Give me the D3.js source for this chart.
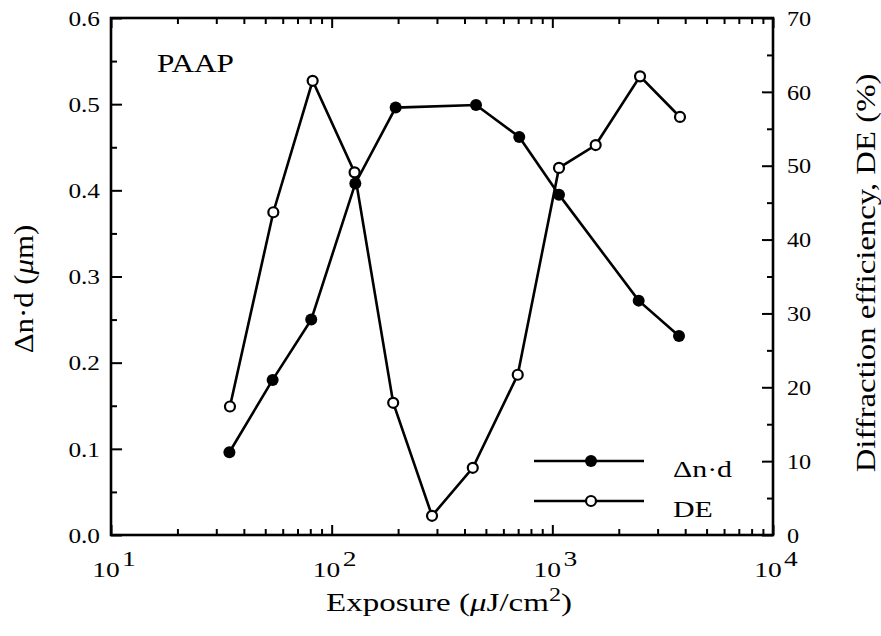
<!DOCTYPE html>
<html>
<head>
<meta charset="utf-8">
<script src="https://cdn.jsdelivr.net/npm/d3@7"></script>
<style>
  html, body { margin: 0; padding: 0; background: #fff; }
  svg { display: block; }
  text { font-family: "Liberation Serif", "Times New Roman", serif; fill: #000; }
</style>
</head>
<body>
<svg id="chart" width="881" height="636"></svg>
<script>
// Δn·d series (filled circles)
const exposureND = [34.4, 54.0, 80.8, 128, 195, 451, 708, 1072, 2462, 3750];
const deltaND = [0.096, 0.180, 0.250, 0.408, 0.496, 0.499, 0.462, 0.395, 0.272, 0.231];

// Diffraction efficiency series (open circles)
const exposureDE = [34.6, 54.4, 82.0, 127, 190, 285, 436, 697, 1072, 1572, 2497, 3789];
const efficiencyDE = [17.4, 43.7, 61.5, 49.1, 17.9, 2.6, 9.1, 21.7, 49.7, 52.8, 62.1, 56.6];

// Axis ticks
const decadeTicks = [10, 100, 1000, 10000];
const decadeExponents = ["1", "2", "3", "4"];
const leftTicks = [0.0, 0.1, 0.2, 0.3, 0.4, 0.5, 0.6];
const rightTicks = [0, 10, 20, 30, 40, 50, 60, 70];

// Legend entries
const legendLabels = ["\u0394n\u00B7d", "DE"];

const svg = d3.select("#chart");
const plotL = 111, plotR = 773, plotT = 18, plotB = 535;

const x = d3.scaleLog().domain([10, 10000]).range([plotL, plotR]);
const yL = d3.scaleLinear().domain([0, 0.6]).range([plotB, plotT]);
const yR = d3.scaleLinear().domain([0, 70]).range([plotB, plotT]);

// minor log ticks 2..9 in each decade
const minorX = [];
decadeTicks.slice(0, 3).forEach(d => { for (let k = 2; k <= 9; k++) minorX.push(d * k); });
const minorL = d3.range(0.05, 0.6, 0.1);
const minorR = d3.range(5, 70, 10);

function styleAxis(g) {
  g.select(".domain").remove();
  g.selectAll("line").attr("stroke", "#000").attr("stroke-width", 2);
  g.selectAll("text").remove();
}

// bottom & top axes (ticks point inward)
svg.append("g").attr("transform", `translate(0,${plotB})`)
  .call(d3.axisBottom(x).tickValues(decadeTicks).tickSize(-10)).call(styleAxis);
svg.append("g").attr("transform", `translate(0,${plotB})`)
  .call(d3.axisBottom(x).tickValues(minorX).tickSize(-6)).call(styleAxis);
svg.append("g").attr("transform", `translate(0,${plotT})`)
  .call(d3.axisTop(x).tickValues(decadeTicks).tickSize(-10)).call(styleAxis);
svg.append("g").attr("transform", `translate(0,${plotT})`)
  .call(d3.axisTop(x).tickValues(minorX).tickSize(-6)).call(styleAxis);

// left & right axes
svg.append("g").attr("transform", `translate(${plotL},0)`)
  .call(d3.axisLeft(yL).tickValues(leftTicks).tickSize(-11)).call(styleAxis);
svg.append("g").attr("transform", `translate(${plotL},0)`)
  .call(d3.axisLeft(yL).tickValues(minorL).tickSize(-6)).call(styleAxis);
svg.append("g").attr("transform", `translate(${plotR},0)`)
  .call(d3.axisRight(yR).tickValues(rightTicks).tickSize(-11)).call(styleAxis);
svg.append("g").attr("transform", `translate(${plotR},0)`)
  .call(d3.axisRight(yR).tickValues(minorR).tickSize(-6)).call(styleAxis);

// frame
svg.append("rect")
  .attr("x", plotL).attr("y", plotT)
  .attr("width", plotR - plotL).attr("height", plotB - plotT)
  .attr("fill", "none").attr("stroke", "#000").attr("stroke-width", 2.6);

// text helper with horizontal stretch in local coordinates
function label(px, py, opts) {
  const t = svg.append("text")
    .attr("transform", `translate(${px},${py})${opts.rotate ? " rotate(" + opts.rotate + ")" : ""} scale(${opts.sx || 1},1)`)
    .attr("text-anchor", opts.anchor || "start")
    .style("font-size", opts.size + "px");
  if (opts.dy) t.attr("dy", opts.dy);
  return t;
}

// left tick labels
leftTicks.forEach(v => {
  label(100, yL(v), { anchor: "end", size: 22, sx: 1.15, dy: "0.35em" }).text(v.toFixed(1));
});
// right tick labels
rightTicks.forEach(v => {
  label(787, yR(v), { anchor: "start", size: 22, sx: 1.1, dy: "0.35em" }).text(v);
});
// bottom tick labels: 10^n
decadeTicks.forEach((v, i) => {
  const t = label(x(v) + 3, 577, { anchor: "middle", size: 22, sx: 1.25 });
  t.append("tspan").text("10");
  t.append("tspan").attr("dx", 2).attr("dy", -11).text(decadeExponents[i]);
});

// x axis title
{
  const t = label(449, 611, { anchor: "middle", size: 26, sx: 1.27 });
  t.append("tspan").text("Exposure (");
  t.append("tspan").style("font-style", "italic").text("\u03BC");
  t.append("tspan").text("J/cm");
  t.append("tspan").attr("dy", -10).style("font-size", "19px").text("2");
  t.append("tspan").attr("dy", 10).text(")");
}
// left y title
{
  const t = label(33, 289, { anchor: "middle", size: 28, sx: 1.1, rotate: -90 });
  t.append("tspan").text("\u0394n\u00B7d (");
  t.append("tspan").style("font-style", "italic").text("\u03BC");
  t.append("tspan").text("m)");
}
// right y title
label(875, 273, { anchor: "middle", size: 28, sx: 1.17, rotate: -90 })
  .text("Diffraction efficiency, DE (%)");

// sample name
label(157, 72, { anchor: "start", size: 25, sx: 1.25 }).text("PAAP");

// data lines
const lineND = d3.line().x(d => x(d[0])).y(d => yL(d[1]));
const lineDE = d3.line().x(d => x(d[0])).y(d => yR(d[1]));
const ndData = exposureND.map((e, i) => [e, deltaND[i]]);
const deData = exposureDE.map((e, i) => [e, efficiencyDE[i]]);

svg.append("path").datum(ndData).attr("d", lineND)
  .attr("fill", "none").attr("stroke", "#000").attr("stroke-width", 2.6);
svg.selectAll("circle.nd").data(ndData).join("circle").attr("class", "nd")
  .attr("cx", d => x(d[0])).attr("cy", d => yL(d[1])).attr("r", 6).attr("fill", "#000");

svg.append("path").datum(deData).attr("d", lineDE)
  .attr("fill", "none").attr("stroke", "#000").attr("stroke-width", 2.6);
svg.selectAll("circle.de").data(deData).join("circle").attr("class", "de")
  .attr("cx", d => x(d[0])).attr("cy", d => yR(d[1])).attr("r", 5)
  .attr("fill", "#fff").attr("stroke", "#000").attr("stroke-width", 2.2);

// legend
const legendY = [461, 501];
legendY.forEach((ly, i) => {
  svg.append("line").attr("x1", 534).attr("x2", 644).attr("y1", ly).attr("y2", ly)
    .attr("stroke", "#000").attr("stroke-width", 2.5);
  const c = svg.append("circle").attr("cx", 591).attr("cy", ly);
  if (i === 0) c.attr("r", 6).attr("fill", "#000");
  else c.attr("r", 5).attr("fill", "#fff").attr("stroke", "#000").attr("stroke-width", 2.2);
  label(673, ly + 16, { anchor: "start", size: 23, sx: 1.3 }).text(legendLabels[i]);
});
</script>
</body>
</html>
